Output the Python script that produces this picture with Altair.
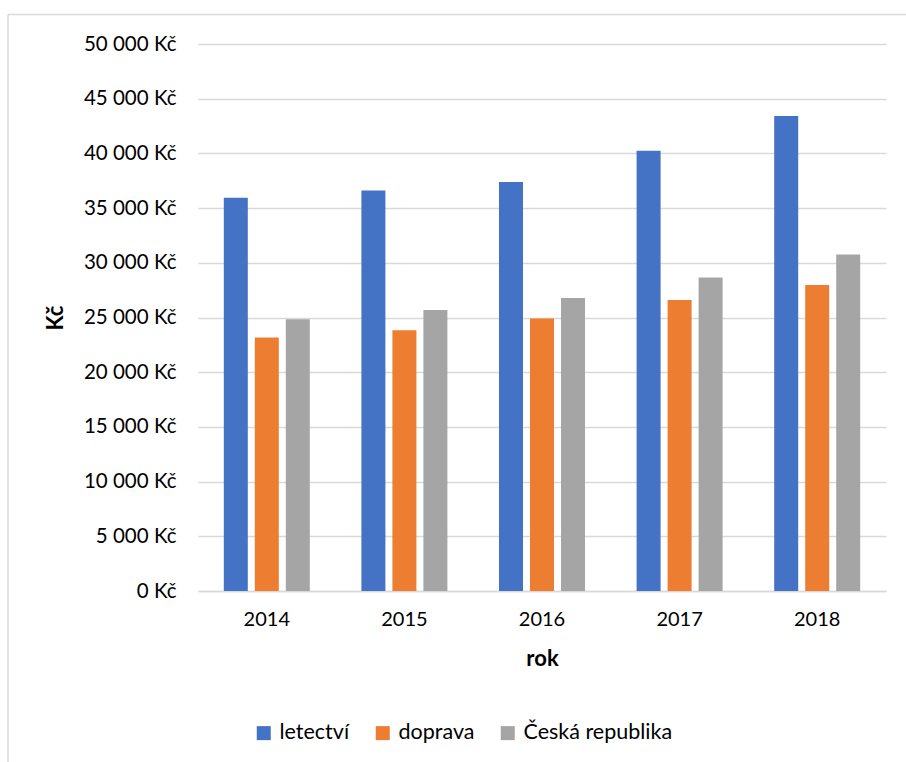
import altair as alt
import pandas as pd

years = ["2014", "2015", "2016", "2017", "2018"]
series = ["letectví", "doprava", "Česká republika"]
letectvi = [35950, 36600, 37390, 40250, 43410]
doprava = [23170, 23840, 24910, 26600, 27980]
cr = [24850, 25680, 26780, 28650, 30760]
colors = ["#4472C4", "#ED7D31", "#A5A5A5"]

rows = []
for i, y in enumerate(years):
    for s, vals in zip(series, [letectvi, doprava, cr]):
        rows.append({"rok": y, "serie": s, "hodnota": vals[i]})
df = pd.DataFrame(rows)

FONT = "Lato"
W, H = 688, 547
PL, PT = 198, 44

bars = alt.Chart(df).mark_bar().encode(
    x=alt.X("rok:N", sort=years,
            scale=alt.Scale(paddingInner=0.375, paddingOuter=0.1875),
            axis=alt.Axis(title="rok", labelAngle=0, ticks=False, domain=True,
                          domainColor="#d9d9d9", domainWidth=1.5, grid=False,
                          labelPadding=18, labelFontSize=20, titleFontSize=22,
                          titleFontWeight="bold", titlePadding=19)),
    xOffset=alt.XOffset("serie:N", sort=series,
                        scale=alt.Scale(paddingInner=0.226, paddingOuter=0)),
    y=alt.Y("hodnota:Q",
            scale=alt.Scale(domain=[0, 50000], nice=False),
            axis=alt.Axis(title="Kč", values=list(range(0, 50001, 5000)),
                          labelExpr="replace(format(datum.value, ',d'), ',', ' ') + ' Kč'",
                          ticks=False, domain=False, grid=True,
                          gridColor="#d9d9d9", gridWidth=1.5,
                          labelPadding=22, labelFontSize=20.5, titleFontSize=22,
                          titleFontWeight="bold", titlePadding=16)),
    color=alt.Color("serie:N", sort=series,
                    scale=alt.Scale(domain=series, range=colors),
                    legend=alt.Legend(title=None, orient="none", direction="horizontal",
                                      legendX=55, legendY=678, symbolType="square",
                                      symbolSize=196, symbolStrokeWidth=0,
                                      labelFontSize=21.5, labelOffset=5,
                                      columnPadding=22, padding=0)),
)

blank = alt.Data(values=[{}])
top_border = alt.Chart(blank).mark_rule(color="#d9d9d9", strokeWidth=1.5).encode(
    x=alt.value(8 - PL), x2=alt.value(906 - PL), y=alt.value(14.5 - PT))
left_border = alt.Chart(blank).mark_rule(color="#d9d9d9", strokeWidth=1.5).encode(
    x=alt.value(8 - PL), y=alt.value(14.5 - PT), y2=alt.value(762 - PT))

chart = alt.layer(top_border, left_border, bars).properties(
    width=W, height=H,
    autosize=alt.AutoSizeParams(type="none"),
    padding={"left": PL, "top": PT, "right": 906 - PL - W, "bottom": 762 - PT - H},
).configure(
    font=FONT, background="white",
    view=alt.ViewConfig(stroke=None),
    axis=alt.AxisConfig(labelColor="#000000", titleColor="#000000",
                        labelFont=FONT, titleFont=FONT),
    legend=alt.LegendConfig(labelColor="#000000", labelFont=FONT),
)

chart.save("out.html", embed_options={"renderer": "svg", "actions": False})
